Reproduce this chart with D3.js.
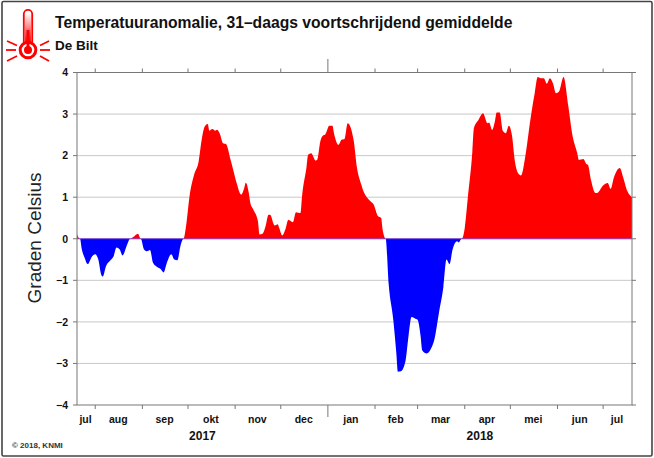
<!DOCTYPE html>
<html><head><meta charset="utf-8">
<script src="https://cdn.jsdelivr.net/npm/d3@7"></script>
<style>html,body{margin:0;padding:0;background:#fff}svg{display:block}text{font-family:"Liberation Sans",Arial,sans-serif}</style>
</head><body><svg id="c" width="654" height="458"></svg>
<script>
const titleText = "Temperatuuranomalie, 31\u2013daags voortschrijdend gemiddelde";
const stationText = "De Bilt";
const yAxisLabel = "Graden Celsius";
const copyrightText = "\u00a9 2018, KNMI";
const startDate = "2017-07-20";
const endDate = "2018-07-20";
const yTicks = [-4,-3,-2,-1,0,1,2,3,4];
const monthLabels = ["jul","aug","sep","okt","nov","dec","jan","feb","mar","apr","mei","jun","jul"];
const yearLabels = [{year:"2017",from:"2017-07-20",to:"2018-01-01"},{year:"2018",from:"2018-01-01",to:"2018-07-20"}];
// days since startDate
const days = [0,2,3,5,7,10,12,14,16,17,19,22,24,26,28,30,33,35,37,40,42,44,46,48,50,52,55,57,59,62,64,66,68,70,
72,74,77,80,82,84,86,87,89,91,92,94,96,98,101,103,105,108,110,111,113,114,116,119,120,122,124,126,127,130,132,133,135,137,139,142,144,147,148,151,152,154,157,158,160,162,163,166,168,169,172,174,176,178,182,184,187,188,191,193,195,198,200,201,203,
205,208,210,211,213,216,218,220,223,224,226,227,230,233,235,238,241,243,245,247,250,251,253,
255,257,260,261,264,267,270,271,273,275,276,278,280,282,284,286,288,290,292,295,298,301,303,305,307,309,311,313,315,317,320,323,326,329,330,333,335,336,338,341,342,346,349,351,353,357,359,362,365];
const anomaly = [.11,0,-.22,-.46,-.61,-.42,-.37,-.5,-.87,-.91,-.67,-.52,-.43,-.21,-.25,-.4,-.14,0,.04,.12,0,-.25,-.3,-.27,-.58,-.66,-.73,-.81,-.59,-.37,-.5,-.52,-.18,0,
.38,1.02,1.54,1.86,2.38,2.7,2.76,2.6,2.64,2.6,2.62,2.52,2.3,2.28,1.9,1.62,1.34,1.06,1.22,1.35,1.1,.86,.7,.42,.1,.12,.3,.58,.58,.32,.35,.26,.08,.22,.46,.4,.64,.62,1.02,1.74,2.02,2.06,1.88,1.9,2.34,2.49,2.5,2.72,2.72,2.54,2.26,2.38,2.4,2.78,2.36,1.74,1.3,1.18,.98,.9,.83,.54,.5,.22,0,
-1.1,-1.95,-2.75,-3.2,-3.19,-2.95,-2.35,-1.88,-1.93,-1.95,-2.35,-2.68,-2.76,-2.63,-2.43,-1.79,-1.15,-.5,-.61,-.26,-.06,-.09,0,
.26,.98,2.1,2.66,2.86,3.02,2.78,2.8,2.62,2.86,3.04,3.04,2.6,2.54,2.72,2.5,1.86,1.58,1.52,2.02,2.82,3.5,3.89,3.86,3.86,3.73,3.86,3.74,3.5,3.54,3.89,3.22,2.46,2.06,1.9,1.92,1.8,1.78,1.42,1.1,1.1,1.28,1.34,1.2,1.46,1.7,1.5,1.14,1.0];

const svg = d3.select("#c");
const parse = d3.utcParse("%Y-%m-%d");
const t0 = parse(startDate), t1 = parse(endDate);
const L=77, R=632, T=72.5, B=405;
const x = d3.scaleUtc().domain([t0,t1]).range([L,R]);
const y = d3.scaleLinear().domain([-4,4]).range([B,T]);
const fmt = v => v<0 ? "\u2212"+Math.abs(v) : String(v);
const axisCol="#777", gridCol="#c8c8c8", ink="#111";

svg.append("rect").attr("x",2).attr("y",1.5).attr("width",650).attr("height",454.5).attr("rx",1.5)
  .attr("fill","#fff").attr("stroke","#444").attr("stroke-width",1.6);

// grid
svg.append("g").selectAll("line").data(yTicks.filter(v=>v>-4&&v<4)).join("line")
  .attr("x1",L).attr("x2",R).attr("y1",d=>y(d)).attr("y2",d=>y(d))
  .attr("stroke",gridCol).attr("stroke-width",1);

// areas
const pts = days.map((d,i)=>({t:d3.utcDay.offset(t0,d),v:anomaly[i]}));
const area = f => d3.area().curve(d3.curveMonotoneX).x(d=>x(d.t)).y0(y(0)).y1(d=>y(f(d.v)));
svg.append("path").attr("d",area(v=>Math.max(v,0))(pts)).attr("fill","#ff0000");
svg.append("path").attr("d",area(v=>Math.min(v,0))(pts)).attr("fill","#0000ff");
svg.append("line").attr("x1",L).attr("x2",R).attr("y1",y(0)).attr("y2",y(0)).attr("stroke","#7a3ad0").attr("stroke-width",.8);

// frame
svg.append("rect").attr("x",L).attr("y",T).attr("width",R-L).attr("height",B-T).attr("fill","none").attr("stroke",axisCol).attr("stroke-width",1);

// month ticks
const months = d3.utcMonth.range(t0,t1);
const ticksG = svg.append("g").attr("stroke",axisCol).attr("stroke-width",1);
months.forEach(m=>{
  const isJan = m.getUTCMonth()===0;
  ticksG.append("line").attr("x1",x(m)).attr("x2",x(m)).attr("y1",T).attr("y2",isJan?59:T-4);
  ticksG.append("line").attr("x1",x(m)).attr("x2",x(m)).attr("y1",B).attr("y2",isJan?417:B+4);
});
yTicks.forEach(v=>{
  ticksG.append("line").attr("x1",L-4).attr("x2",L).attr("y1",y(v)).attr("y2",y(v));
  ticksG.append("line").attr("x1",R).attr("x2",R+4).attr("y1",y(v)).attr("y2",y(v));
});

// y labels
svg.append("g").selectAll("text").data(yTicks).join("text")
  .attr("x",68).attr("y",d=>y(d)+3.8).attr("text-anchor","end")
  .attr("font-size",10.5).attr("font-weight",700).attr("fill",ink).text(fmt);

// month labels centred in each visible month segment
const edges = [t0,...months,t1];
monthLabels.forEach((lab,i)=>{
  svg.append("text").attr("x",(x(edges[i])+x(edges[i+1]))/2-0.6).attr("y",423)
    .attr("text-anchor","middle").attr("font-size",10.5).attr("font-weight",700).attr("fill",ink).text(lab);
});
yearLabels.forEach(o=>{
  svg.append("text").attr("x",(x(parse(o.from))+x(parse(o.to)))/2).attr("y",440)
    .attr("text-anchor","middle").attr("font-size",12).attr("font-weight",700).attr("fill",ink).text(o.year);
});

svg.append("text").attr("x",55).attr("y",28).attr("font-size",15.7).attr("font-weight",700).attr("fill",ink).text(titleText);
svg.append("text").attr("x",55).attr("y",50).attr("font-size",13.5).attr("font-weight",700).attr("fill",ink).text(stationText);
svg.append("text").attr("transform","translate(41,238) rotate(-90)").attr("text-anchor","middle")
  .attr("font-size",19).attr("fill","#222").text(yAxisLabel);
svg.append("text").attr("x",12).attr("y",448).attr("font-size",8).attr("font-weight",700).attr("fill","#333").text(copyrightText);

// thermometer icon
const defs = svg.append("defs");
const g = defs.append("linearGradient").attr("id","tube").attr("x1",0).attr("x2",0).attr("y1",0).attr("y2",1);
g.append("stop").attr("offset","0%").attr("stop-color","#fff");
g.append("stop").attr("offset","100%").attr("stop-color","#ff0000");
const ic = svg.append("g").attr("stroke","#ff0000").attr("fill","none");
ic.append("rect").attr("x",25).attr("y",13).attr("width",6).attr("height",30).attr("fill","url(#tube)").attr("stroke","none");
ic.append("path").attr("d","M23.8 43V14a4.2 4.2 0 0 1 8.4 0V43").attr("stroke-width",1.8);
ic.append("circle").attr("cx",28).attr("cy",50).attr("r",7.8).attr("stroke-width",3).attr("fill","#fff");
ic.append("circle").attr("cx",28).attr("cy",50).attr("r",4).attr("fill","#ff0000").attr("stroke","none");
ic.append("rect").attr("x",26.5).attr("y",30).attr("width",3).attr("height",18).attr("fill","#ff0000").attr("stroke","none");
[[7,41,17,45.5],[6,50,16,50],[7,61,17,56],[49,41,40,45.5],[50,50,40,50],[49,61,40,56]].forEach(r=>{
  ic.append("line").attr("x1",r[0]).attr("y1",r[1]).attr("x2",r[2]).attr("y2",r[3]).attr("stroke-width",1.8);
});
</script></body></html>
